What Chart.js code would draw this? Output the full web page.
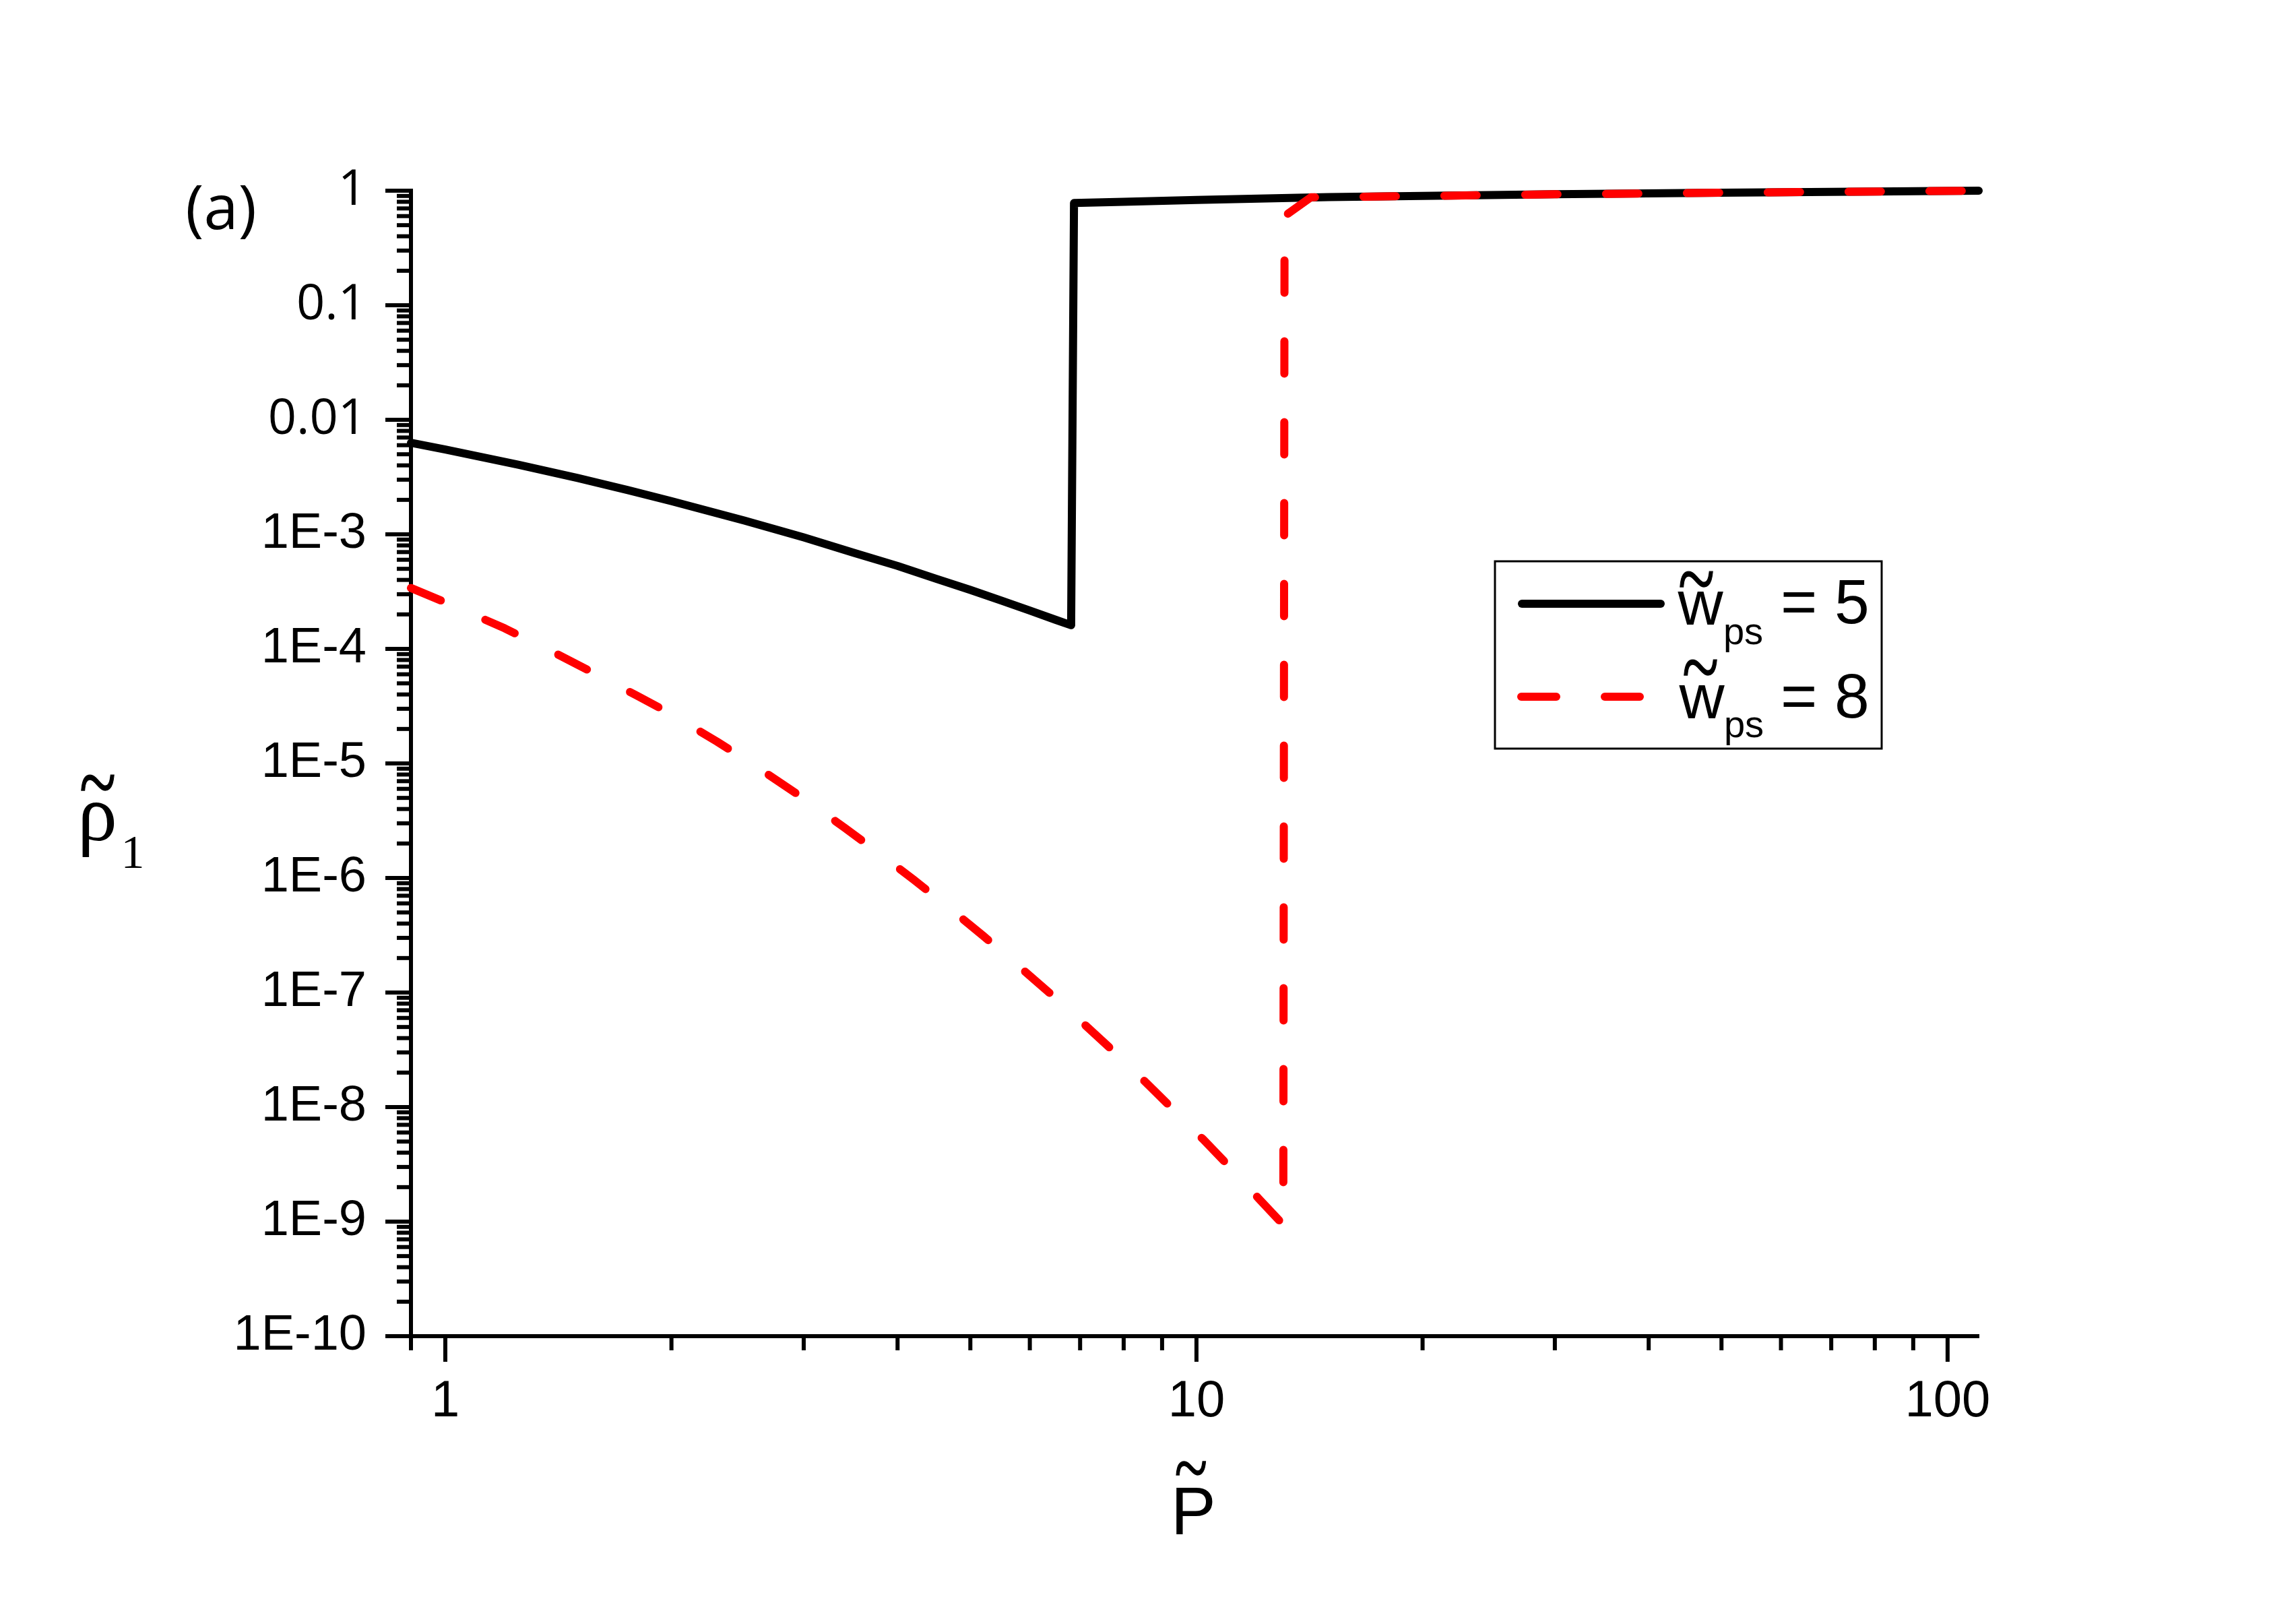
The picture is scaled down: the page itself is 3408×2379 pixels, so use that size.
<!DOCTYPE html>
<html>
<head>
<meta charset="utf-8">
<title>rho1 vs P</title>
<script src="https://cdn.jsdelivr.net/npm/chart.js@4.4.1/dist/chart.umd.min.js"></script>
<style>
  html, body { margin: 0; padding: 0; background: #fff; }
  #wrap { width: 3408px; height: 2379px; }
</style>
</head>
<body>
<div id="wrap"><canvas id="rhoChart"></canvas></div>
<script>
// values (both axes logarithmic)
const blackP   = [0.9, 1.0, 1.25, 1.5, 1.75, 2.0, 2.5, 3.0, 3.5, 4.0, 4.5, 5.0, 5.5, 6.0, 6.5, 6.81,
                  6.87, 8, 10, 15, 20, 30, 50, 75, 110];
const blackRho = [6.3e-3, 5.5e-3, 4.06e-3, 3.1e-3, 2.43e-3, 1.95e-3, 1.32e-3, 9.4e-4, 6.9e-4, 5.3e-4, 4.1e-4, 3.27e-4, 2.64e-4, 2.16e-4, 1.79e-4, 1.61e-4,
                  0.78, 0.80, 0.83, 0.88, 0.90, 0.93, 0.96, 0.98, 1.0];

const redP   = [0.9, 1.0, 1.2, 1.4, 1.6, 1.8, 2.0, 2.3, 2.6, 3.0, 3.4, 3.8, 4.2, 4.7, 5.2, 5.8, 6.4, 7.0, 7.7, 8.5, 9.3, 10.2, 11.1, 12.1, 13.05,
                13.1, 14.2, 20, 30, 50, 75, 110];
const redRho = [3.4e-4, 2.55e-4, 1.51e-4, 9.2e-5, 5.85e-5, 3.9e-5, 2.69e-5, 1.55e-5, 9.3e-6, 4.94e-6, 2.75e-6, 1.6e-6, 9.7e-7, 5.4e-7, 3.13e-7,
                1.7e-7, 9.7e-8, 5.7e-8, 3.21e-8, 1.72e-8, 9.6e-9, 5.25e-9, 2.95e-9, 1.59e-9, 9.4e-10,
                0.6, 0.875, 0.90, 0.93, 0.96, 0.98, 1.0];

const wpsValues = [5, 8];

const xTickValues = [1, 10, 100];
const xTickLabels = ['1', '10', '100'];
const yTickValues = [1e-10, 1e-9, 1e-8, 1e-7, 1e-6, 1e-5, 1e-4, 1e-3, 1e-2, 1e-1, 1];
const yTickLabels = ['1E-10', '1E-9', '1E-8', '1E-7', '1E-6', '1E-5', '1E-4', '1E-3', '0.01', '0.1', '1'];

// minor tick positions
const xMinorValues = [0.9];
[1, 10].forEach(d => { for (let m = 2; m <= 9; m++) xMinorValues.push(m * d); });
const yMinorValues = [];
for (let k = -10; k < 0; k++) { for (let m = 2; m <= 9; m++) yMinorValues.push(m * Math.pow(10, k)); }

function toPoints(xs, ys) {
    return xs.map((x, i) => ({ x: x, y: ys[i] }));
}

// draw text so that its ink box is centred on (cx, cy); sy stretches it vertically
function inkText(ctx, text, font, cx, cy, sy, stroke) {
    sy = sy || 1;
    ctx.save();
    ctx.font = font;
    ctx.textAlign = 'left';
    ctx.textBaseline = 'alphabetic';
    const m = ctx.measureText(text);
    const x = cx - (m.actualBoundingBoxRight - m.actualBoundingBoxLeft) / 2;
    const y = -(m.actualBoundingBoxDescent - m.actualBoundingBoxAscent) / 2;
    ctx.translate(0, cy);
    ctx.scale(1, sy);
    ctx.fillText(text, x, y);
    if (stroke) {
        ctx.lineWidth = stroke;
        ctx.strokeStyle = ctx.fillStyle;
        ctx.strokeText(text, x, y);
    }
    ctx.restore();
}

const extrasPlugin = {
    id: 'extras',
    afterDraw(chart) {
        const ctx = chart.ctx;
        const xs = chart.scales.x;
        const ys = chart.scales.y;
        const area = chart.chartArea;

        ctx.save();
        ctx.strokeStyle = '#000';
        ctx.fillStyle = '#000';
        ctx.lineWidth = 6;
        ctx.lineCap = 'butt';

        // tick marks, outward
        const tickX = (v, len) => {
            const px = xs.getPixelForValue(v);
            ctx.beginPath(); ctx.moveTo(px, area.bottom); ctx.lineTo(px, area.bottom + len); ctx.stroke();
        };
        const tickY = (v, len) => {
            const py = ys.getPixelForValue(v);
            ctx.beginPath(); ctx.moveTo(area.left, py); ctx.lineTo(area.left - len, py); ctx.stroke();
        };
        xTickValues.forEach(v => tickX(v, 38));
        xMinorValues.forEach(v => tickX(v, 21));
        yTickValues.forEach(v => tickY(v, 38));
        yMinorValues.forEach(v => tickY(v, 21));

        // panel label
        inkText(ctx, '(a)', '92px "Open Sans"', 328, 315);

        // y title: rho~_1
        inkText(ctx, 'ρ', '118px "Liberation Serif"', 146, 1231);
        inkText(ctx, '~', '100px "Liberation Serif"', 145, 1162, 1.35, 1);
        inkText(ctx, '1', '70px "Liberation Serif"', 198, 1265);

        // x title: P~
        inkText(ctx, 'P', '100px "Liberation Sans"', 1773, 2242);
        inkText(ctx, '~', '90px "Liberation Serif"', 1768, 2178, 1.35, 1);

        // legend
        ctx.lineWidth = 3;
        ctx.strokeRect(2219, 833, 574, 278);

        ctx.lineWidth = 12;
        ctx.lineCap = 'round';
        ctx.strokeStyle = '#000';
        ctx.beginPath(); ctx.moveTo(2259, 896); ctx.lineTo(2465, 896); ctx.stroke();

        ctx.strokeStyle = '#ff0000';
        ctx.setLineDash([52, 72]);
        ctx.beginPath(); ctx.moveTo(2258, 1034); ctx.lineTo(2434, 1034); ctx.stroke();
        ctx.setLineDash([]);

        const rows = [
            { w: [2524, 902], t: [2518, 860], ps: [2588, 947], eq: [2709, 893] },
            { w: [2526, 1041], t: [2524, 991], ps: [2589, 1085], eq: [2709, 1033] }
        ];
        rows.forEach((r, i) => {
            inkText(ctx, 'w', '93px "Liberation Sans"', r.w[0], r.w[1]);
            inkText(ctx, '~', '100px "Liberation Serif"', r.t[0], r.t[1], 1.35, 1);
            inkText(ctx, 'ps', '56px "Liberation Sans"', r.ps[0], r.ps[1]);
            inkText(ctx, '= ' + wpsValues[i], '93px "Liberation Sans"', r.eq[0], r.eq[1]);
        });

        ctx.restore();
    }
};

Chart.defaults.color = '#000';
Chart.defaults.font.family = '"Liberation Sans", Arial, sans-serif';

const ctx = document.getElementById('rhoChart').getContext('2d');
new Chart(ctx, {
    type: 'line',
    data: {
        datasets: [{
            label: 'w_ps = 8',
            data: toPoints(redP, redRho),
            borderColor: '#ff0000',
            borderWidth: 12,
            borderDash: [48, 72],
            borderCapStyle: 'round',
            borderJoinStyle: 'round',
            pointRadius: 0,
            fill: false,
            tension: 0,
            clip: false,
            order: 0
        },
        {
            label: 'w_ps = 5',
            data: toPoints(blackP, blackRho),
            borderColor: '#000000',
            borderWidth: 12,
            borderCapStyle: 'round',
            borderJoinStyle: 'round',
            pointRadius: 0,
            fill: false,
            tension: 0,
            clip: false,
            order: 1
        }]
    },
    options: {
        responsive: true,
        maintainAspectRatio: false,
        animation: false,
        layout: { padding: { top: 283, right: 471, left: 0, bottom: 0 } },
        plugins: {
            legend: { display: false },
            tooltip: { enabled: false }
        },
        scales: {
            x: {
                type: 'logarithmic',
                min: 0.9,
                max: 110,
                afterFit(s) { s.height = 396; },
                afterBuildTicks(s) { s.ticks = xTickValues.map(v => ({ value: v })); },
                grid: { display: false },
                border: { display: true, color: '#000', width: 6 },
                ticks: {
                    autoSkip: false,
                    maxRotation: 0,
                    padding: 44,
                    font: { size: 76 },
                    callback: (v, i) => xTickLabels[i]
                }
            },
            y: {
                type: 'logarithmic',
                min: 1e-10,
                max: 1,
                afterFit(s) { s.width = 610; },
                afterBuildTicks(s) { s.ticks = yTickValues.map(v => ({ value: v })); },
                grid: { display: false },
                border: { display: true, color: '#000', width: 6 },
                ticks: {
                    autoSkip: false,
                    padding: 58,
                    font: c => ({
                        family: (c.tick && c.tick.value >= 0.01) ? '"Open Sans"' : '"Liberation Sans"',
                        size: 74
                    }),
                    callback: (v, i) => yTickLabels[i]
                }
            }
        }
    },
    plugins: [extrasPlugin]
});
</script>
</body>
</html>
